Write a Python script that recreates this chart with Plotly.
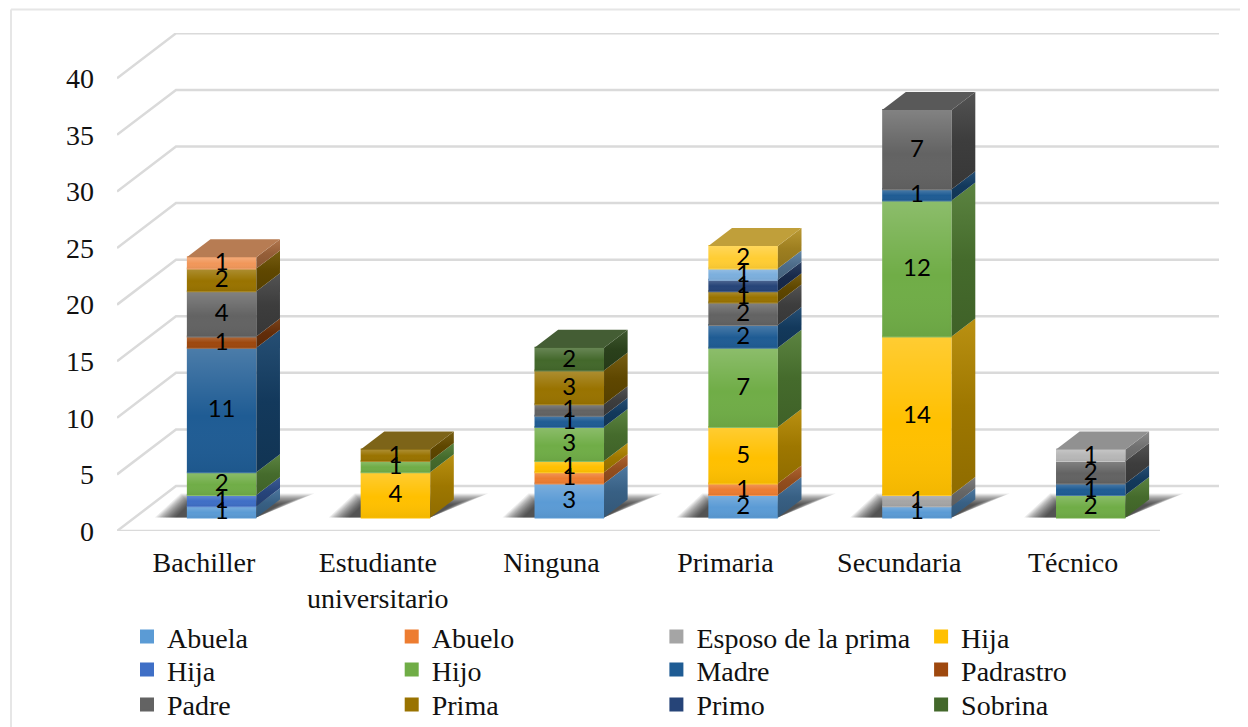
import plotly.graph_objects as go

# ── data ──────────────────────────────────────
categories = ["Bachiller", "Estudiante<br>universitario", "Ninguna", "Primaria", "Secundaria", "Técnico"]
y_ticks = [0, 5, 10, 15, 20, 25, 30, 35, 40]

abuela    = [1, 0, 3, 2, 1, 0]
abuelo    = [0, 0, 1, 1, 0, 0]
esposo    = [0, 0, 0, 0, 1, 0]
hija      = [0, 4, 1, 5, 14, 0]
hija_2    = [1, 0, 0, 0, 0, 0]
hijo      = [2, 1, 3, 7, 12, 2]
madre     = [11, 0, 1, 2, 1, 1]
padrastro = [1, 0, 0, 0, 0, 0]
padre     = [4, 0, 1, 2, 7, 2]
prima     = [2, 1, 3, 1, 0, 0]
primo     = [0, 0, 0, 1, 0, 0]
sobrina   = [0, 0, 2, 0, 0, 0]
# these four are stacked in the chart but have no legend entry
extra_a   = [0, 0, 0, 1, 0, 0]
extra_b   = [1, 0, 0, 0, 0, 0]
extra_c   = [0, 0, 0, 0, 0, 1]
extra_d   = [0, 0, 0, 2, 0, 0]

series = [
    ("Abuela", abuela, "#5B9BD5", True),
    ("Abuelo", abuelo, "#ED7D31", True),
    ("Esposo de la prima", esposo, "#A5A5A5", True),
    ("Hija", hija, "#FFC000", True),
    ("Hija", hija_2, "#3F6FC6", True),
    ("Hijo", hijo, "#70AD47", True),
    ("Madre", madre, "#1F5C94", True),
    ("Padrastro", padrastro, "#9E480E", True),
    ("Padre", padre, "#636363", True),
    ("Prima", prima, "#997300", True),
    ("Primo", primo, "#264478", True),
    ("Sobrina", sobrina, "#43682B", True),
    ("", extra_a, "#7CAFDD", False),
    ("", extra_b, "#F1975A", False),
    ("", extra_c, "#B7B7B7", False),
    ("", extra_d, "#FFCD33", False),
]

# ── 3D look: depth z (0 front wall, 1 back wall) shears x and y ──
PX_X = 173.83       # pixels per category
PX_Y = 11.33        # pixels per value unit
WALL_DX = 59 / PX_X
WALL_DY = 45 / PX_Y
Z_FRONT, Z_BACK = 0.3, 0.7
BAR_W = 69.5 / PX_X
GRID = "#DADADA"
SERIF = "Liberation Serif"
TEXT = "#111111"


def proj(x, y, z):
    return x + z * WALL_DX, y + z * WALL_DY


def shade(hex_color, f, lift=0):
    r, g, b = (int(hex_color[i:i + 2], 16) for i in (1, 3, 5))
    return f"rgb({r * f + lift:.0f},{g * f + lift:.0f},{b * f + lift:.0f})"


def poly(pts, **kw):
    xs = [p[0] for p in pts] + [pts[0][0]]
    ys = [p[1] for p in pts] + [pts[0][1]]
    return go.Scatter(x=xs, y=ys, mode="lines", fill="toself", line=dict(width=0),
                      showlegend=False, hoverinfo="skip", **kw)


fig = go.Figure()
shapes = []

# walls: one diagonal + one back line per tick, drawn below the bars
for v in y_ticks:
    x0, y0 = proj(-0.5, v, 0)
    x1, y1 = proj(-0.5, v, 1)
    x2, y2 = proj(5.5, v, 1)
    shapes.append(dict(type="path", path=f"M{x0},{y0}L{x1},{y1}L{x2},{y2}", layer="below",
                       line=dict(color=GRID, width=2.5)))
shapes.append(dict(type="line", x0=-0.5, x1=5.5, y0=0, y1=0, layer="below",
                   line=dict(color=GRID, width=2.5)))

# soft shadow on the floor, faked with stacked translucent parallelograms
for i in range(len(categories)):
    _, yb = proj(i, 0, Z_FRONT)
    xl = proj(i - BAR_W / 2, 0, Z_FRONT)[0]
    xr = proj(i + BAR_W / 2, 0, Z_FRONT)[0]
    for step in range(14):
        d = step * 1.2
        pts = [(xl + (-32 + 1.3 * d) / PX_X, yb),
               (xr, yb),
               (xr + (58 - 2.2 * d) / PX_X, yb + (24 - 0.7 * d) / PX_Y),
               (xl + (-6 + 0.5 * d) / PX_X, yb + (24 - 0.7 * d) / PX_Y)]
        path = "M" + "L".join(f"{a},{b}" for a, b in pts) + "Z"
        shapes.append(dict(type="path", path=path, layer="below", line=dict(width=0),
                           fillcolor="rgba(0,0,0,0.075)"))

# front faces are real bars, they also give the legend
for k, (name, values, color, in_legend) in enumerate(series):
    bases, heights, xs = [], [], []
    for i, v in enumerate(values):
        below = sum(s[1][i] for s in series[:k])
        x, y = proj(i, below, Z_FRONT)
        xs.append(x)
        bases.append(y)
        heights.append(v if v else None)
    row = k // 4
    fig.add_trace(go.Bar(x=xs, y=heights, base=bases, width=BAR_W - 2 / PX_X, name=name or "Otro",
                         marker=dict(color=color, line=dict(color=color, width=2)),
                         showlegend=in_legend, hoverinfo="skip",
                         legend="legend" if row == 0 or not in_legend else f"legend{row + 1}"))

# sides, tops, front gradients and labels on top of the bars
label_x, label_y, label_text = [], [], []
for i in range(len(categories)):
    below = 0
    for name, values, color, in_legend in series:
        v = values[i]
        if not v:
            continue
        l, r = i - BAR_W / 2, i + BAR_W / 2
        lo, hi = below, below + v
        # side face
        fig.add_trace(poly([proj(r, lo, Z_FRONT), proj(r, lo, Z_BACK), proj(r, hi, Z_BACK), proj(r, hi, Z_FRONT)],
                           fillgradient=dict(type="vertical", colorscale=[[0, shade(color, 0.56)], [0.5, shade(color, 0.62)], [1, shade(color, 0.66, 18)]])))
        # front gradient overlay
        fig.add_trace(poly([proj(l, lo, Z_FRONT), proj(r, lo, Z_FRONT), proj(r, hi, Z_FRONT), proj(l, hi, Z_FRONT)],
                           fillgradient=dict(type="vertical", colorscale=[[0, "rgba(0,0,0,0.05)"], [0.45, "rgba(255,255,255,0)"], [1, "rgba(255,255,255,0.2)"]])))
        cx, cy = proj(i, (lo + hi) / 2 - 1.5 / PX_Y, Z_FRONT)
        label_x.append(cx)
        label_y.append(cy)
        label_text.append(str(v))
        below = hi
        top_color = color
    fig.add_trace(poly([proj(l, below, Z_FRONT), proj(r, below, Z_FRONT), proj(r, below, Z_BACK), proj(l, below, Z_BACK)],
                       fillcolor=shade(top_color, 0.66, 24)))

fig.add_trace(go.Scatter(x=label_x, y=label_y, text=label_text, mode="text",
                         textposition="middle center", textfont=dict(family="Lato", size=24, color="#000000"),
                         showlegend=False, hoverinfo="skip"))

# chart frame, only top and left are visible in the picture
frame = dict(color="#E6E6E6", width=2)
shapes.append(dict(type="line", xref="paper", yref="paper", x0=-106 / 1102, x1=1.03, y0=1 + 23.5 / 498.5, y1=1 + 23.5 / 498.5, line=frame))
shapes.append(dict(type="line", xref="paper", yref="paper", x0=-106 / 1102, x1=-106 / 1102, y0=1 + 23.5 / 498.5, y1=-0.4, line=frame))


def legend_row(top_px):
    return dict(orientation="h", x=10 / 1102, xanchor="left", y=-(top_px - 531) / 498.5, yanchor="top",
                entrywidth=219.7, entrywidthmode="pixels", traceorder="normal",
                bgcolor="rgba(0,0,0,0)", font=dict(family=SERIF, size=28, color=TEXT))


# page body adds 8px around the figure, so size and margins allow for it
fig.update_layout(
    width=1240, height=719,
    margin=dict(l=109, r=29, t=24.5, b=196, autoexpand=False),
    barmode="overlay",
    paper_bgcolor="#FFFFFF", plot_bgcolor="rgba(0,0,0,0)",
    font=dict(family=SERIF, size=28, color=TEXT),
    shapes=shapes,
    xaxis=dict(range=[-0.5, 5.5 + WALL_DX], tickvals=list(range(6)), ticktext=categories,
               showgrid=False, zeroline=False, showline=False, ticks="", ticklabelstandoff=12,
               tickfont=dict(family=SERIF, size=28, color=TEXT)),
    yaxis=dict(range=[0, 44], tickvals=y_ticks, showgrid=False, zeroline=False, showline=False,
               ticks="", ticklabelstandoff=22, tickfont=dict(family=SERIF, size=28, color=TEXT)),
    legend=legend_row(612),
    legend2=legend_row(645),
    legend3=legend_row(680),
)

fig.write_html("out.html")
